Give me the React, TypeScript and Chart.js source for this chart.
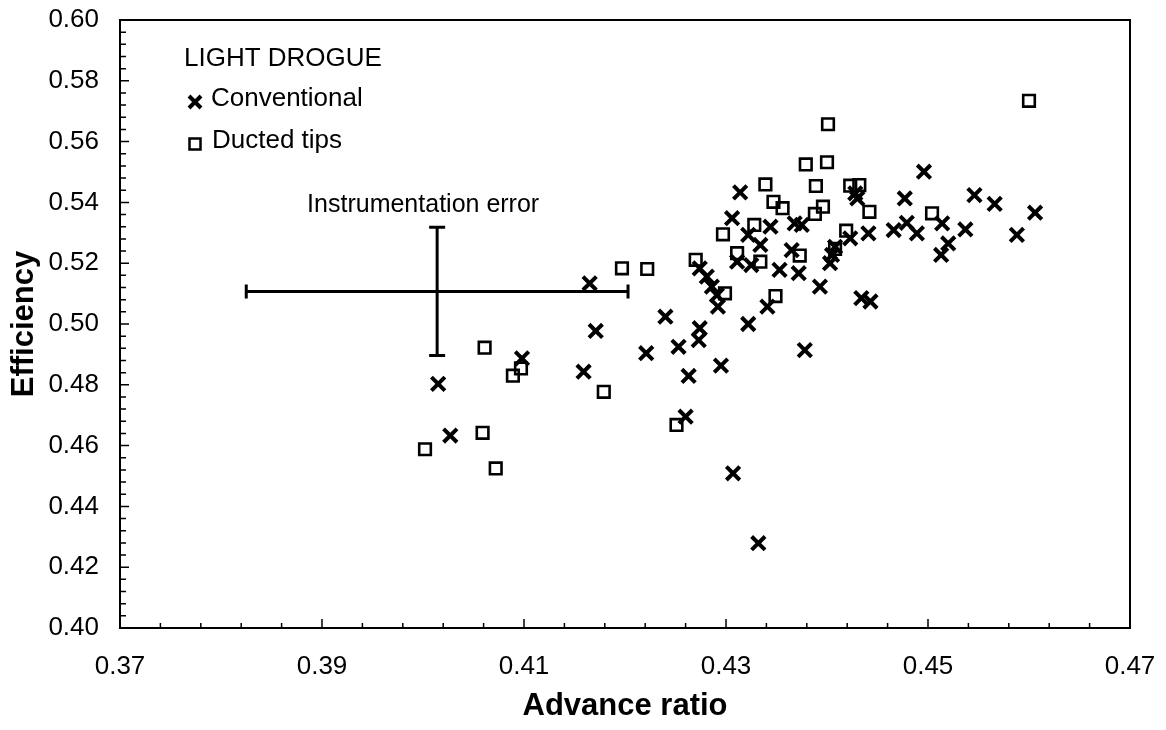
import React, { useEffect, useRef } from 'react';
import { Chart, registerables } from 'chart.js';

Chart.register(...registerables);

const FONT = '"Liberation Sans", Arial, Helvetica, sans-serif';

const seriesNames = ['Conventional', 'Ducted tips'];
const legendTitle = 'LIGHT DROGUE';
const annotationText = 'Instrumentation error';
const xAxisTitle = 'Advance ratio';
const yAxisTitle = 'Efficiency';

const xTickValues = [0.37, 0.39, 0.41, 0.43, 0.45, 0.47];
const xTickLabels = ['0.37', '0.39', '0.41', '0.43', '0.45', '0.47'];
const yTickValues = [0.4, 0.42, 0.44, 0.46, 0.48, 0.5, 0.52, 0.54, 0.56, 0.58, 0.6];
const yTickLabels = ['0.40', '0.42', '0.44', '0.46', '0.48', '0.50', '0.52', '0.54', '0.56', '0.58', '0.60'];
const minorPerMajor = 5;

const conventionalAdvance = [
  0.4015, 0.4027, 0.4098, 0.4159, 0.4165, 0.4171, 0.4221, 0.424, 0.4253, 0.4263,
  0.426, 0.4273, 0.4274, 0.4274, 0.4281, 0.4286, 0.4291, 0.4292, 0.4295, 0.4307,
  0.4306, 0.4314, 0.4311, 0.4322, 0.4334, 0.4325, 0.4322, 0.4332, 0.4341, 0.4344,
  0.4368, 0.4375, 0.4365, 0.4353, 0.4372, 0.4378, 0.4393, 0.4403, 0.4405, 0.4408,
  0.4423, 0.4428, 0.443, 0.4434, 0.4443, 0.4441, 0.4466, 0.4477, 0.4479, 0.4489,
  0.4496, 0.4514, 0.4513, 0.452, 0.4537, 0.4546, 0.4566, 0.4588, 0.4606,
];
const conventionalEfficiency = [
  0.4803, 0.4633, 0.4887, 0.4843, 0.5134, 0.4977, 0.4904, 0.5024, 0.4925, 0.4829,
  0.4695, 0.4947, 0.4986, 0.5183, 0.5156, 0.5123, 0.5095, 0.5057, 0.4863, 0.4509,
  0.5348, 0.5433, 0.5205, 0.5293, 0.526, 0.5194, 0.5, 0.4279, 0.5057, 0.532,
  0.5331, 0.5326, 0.5243, 0.5178, 0.5167, 0.4914, 0.5123, 0.52, 0.5227, 0.5254,
  0.5282, 0.543, 0.5413, 0.5085, 0.5074, 0.5298, 0.5309, 0.5413, 0.5333, 0.5298,
  0.5501, 0.5331, 0.5227, 0.5265, 0.5311, 0.5424, 0.5395, 0.5293, 0.5366,
];

const ductedAdvance = [
  0.4002, 0.4059, 0.4061, 0.4072, 0.4089, 0.4097, 0.4179, 0.4197, 0.4222, 0.4251,
  0.427, 0.4299, 0.4297, 0.4311, 0.4328, 0.4334, 0.4339, 0.4347, 0.4349, 0.4356,
  0.4373, 0.4379, 0.4388, 0.4389, 0.4396, 0.44, 0.4401, 0.4408, 0.4419, 0.4423,
  0.4432, 0.4442, 0.4504, 0.46,
];
const ductedEfficiency = [
  0.4588, 0.4642, 0.4922, 0.4525, 0.483, 0.4854, 0.4777, 0.5183, 0.5181, 0.4668,
  0.5211, 0.5101, 0.5295, 0.5233, 0.5326, 0.5205, 0.5459, 0.5402, 0.5092, 0.5381,
  0.5225, 0.5525, 0.5362, 0.5454, 0.5386, 0.5532, 0.5657, 0.5247, 0.5307, 0.5455,
  0.5457, 0.5369, 0.5364, 0.5734,
];

// instrumentation error bar: centre (advance ratio, efficiency) and half-widths
const errorCenter = [0.4014, 0.5107];
const errorHalf = [0.0189, 0.0211];

const decorPlugin = {
  id: 'decor',
  afterDatasetsDraw(chart: any) {
    const { ctx, chartArea } = chart;
    const xs = chart.scales.x;
    const ys = chart.scales.y;
    const { left, right, top, bottom } = chartArea;
    ctx.save();
    ctx.strokeStyle = '#000';
    ctx.fillStyle = '#000';

    // frame
    ctx.lineWidth = 2;
    ctx.strokeRect(left, top, right - left, bottom - top);

    // inward ticks
    ctx.lineWidth = 1.5;
    ctx.beginPath();
    for (let i = 0; i < xTickValues.length; i++) {
      const v = xTickValues[i];
      const px = xs.getPixelForValue(v);
      if (i > 0 && i < xTickValues.length - 1) {
        ctx.moveTo(px, bottom);
        ctx.lineTo(px, bottom - 9);
      }
      if (i < xTickValues.length - 1) {
        const step = (xTickValues[i + 1] - v) / minorPerMajor;
        for (let k = 1; k < minorPerMajor; k++) {
          const mx = xs.getPixelForValue(v + k * step);
          ctx.moveTo(mx, bottom);
          ctx.lineTo(mx, bottom - 5);
        }
      }
    }
    for (let i = 0; i < yTickValues.length; i++) {
      const v = yTickValues[i];
      const py = ys.getPixelForValue(v);
      if (i > 0 && i < yTickValues.length - 1) {
        ctx.moveTo(left, py);
        ctx.lineTo(left + 9, py);
      }
      if (i < yTickValues.length - 1) {
        const step = (yTickValues[i + 1] - v) / minorPerMajor;
        for (let k = 1; k < minorPerMajor; k++) {
          const my = ys.getPixelForValue(v + k * step);
          ctx.moveTo(left, my);
          ctx.lineTo(left + 6, my);
        }
      }
    }
    ctx.stroke();

    // error bar
    const cx = xs.getPixelForValue(errorCenter[0]);
    const cy = ys.getPixelForValue(errorCenter[1]);
    const x0 = xs.getPixelForValue(errorCenter[0] - errorHalf[0]);
    const x1 = xs.getPixelForValue(errorCenter[0] + errorHalf[0]);
    const y0 = ys.getPixelForValue(errorCenter[1] + errorHalf[1]);
    const y1 = ys.getPixelForValue(errorCenter[1] - errorHalf[1]);
    ctx.lineWidth = 3;
    ctx.beginPath();
    ctx.moveTo(x0, cy);
    ctx.lineTo(x1, cy);
    ctx.moveTo(x0, cy - 7);
    ctx.lineTo(x0, cy + 7);
    ctx.moveTo(x1, cy - 7);
    ctx.lineTo(x1, cy + 7);
    ctx.moveTo(cx, y0);
    ctx.lineTo(cx, y1);
    ctx.moveTo(cx - 8, y0);
    ctx.lineTo(cx + 8, y0);
    ctx.moveTo(cx - 8, y1);
    ctx.lineTo(cx + 8, y1);
    ctx.stroke();

    // annotation text
    ctx.font = `25px ${FONT}`;
    ctx.textAlign = 'center';
    ctx.textBaseline = 'middle';
    ctx.fillText(annotationText, cx - 14, y0 - 22);

    // legend
    const lx = left + 64;
    ctx.textAlign = 'left';
    ctx.font = `26px ${FONT}`;
    ctx.fillText(legendTitle, lx, top + 39);
    const mx = left + 75;
    const c1 = top + 82;
    ctx.lineWidth = 4;
    ctx.beginPath();
    ctx.moveTo(mx - 6, c1 - 6);
    ctx.lineTo(mx + 6, c1 + 6);
    ctx.moveTo(mx + 6, c1 - 6);
    ctx.lineTo(mx - 6, c1 + 6);
    ctx.stroke();
    ctx.fillText(seriesNames[0], left + 91, top + 79);
    const c2 = top + 124;
    ctx.lineWidth = 2.5;
    ctx.strokeRect(mx - 5.5, c2 - 5.5, 11, 11);
    ctx.fillText(seriesNames[1], left + 92, top + 121);

    ctx.restore();
  },
};

export default function App() {
  const ref = useRef<HTMLCanvasElement | null>(null);

  useEffect(() => {
    if (!ref.current) return;
    const chart = new Chart(ref.current, {
      type: 'scatter',
      data: {
        datasets: [
          {
            label: seriesNames[0],
            data: conventionalAdvance.map((x, i) => ({ x, y: conventionalEfficiency[i] })),
            pointStyle: 'crossRot',
            pointRadius: 9.5,
            pointBorderWidth: 4,
            borderColor: '#000',
            backgroundColor: '#000',
          },
          {
            label: seriesNames[1],
            data: ductedAdvance.map((x, i) => ({ x, y: ductedEfficiency[i] })),
            pointStyle: 'rect',
            pointRadius: 8.2,
            pointBorderWidth: 2.6,
            borderColor: '#000',
            backgroundColor: 'rgba(0,0,0,0)',
          },
        ],
      },
      options: {
        animation: false,
        responsive: false,
        maintainAspectRatio: false,
        layout: { padding: { left: 0, right: 36, top: 20, bottom: 0 } },
        plugins: {
          legend: { display: false },
          tooltip: { enabled: false },
        },
        scales: {
          x: {
            type: 'linear',
            min: 0.37,
            max: 0.47,
            grid: { display: false, drawTicks: false },
            border: { display: false },
            afterBuildTicks: (s: any) => {
              s.ticks = xTickValues.map((v) => ({ value: v }));
            },
            afterFit: (s: any) => {
              s.height = 102;
              s.paddingLeft = 0;
              s.paddingRight = 0;
            },
            ticks: {
              color: '#000',
              font: { size: 26, family: FONT },
              padding: 23,
              maxRotation: 0,
              autoSkip: false,
              callback: (v: any) => {
                const i = xTickValues.findIndex((t) => Math.abs(t - Number(v)) < 1e-6);
                return i >= 0 ? xTickLabels[i] : '';
              },
            },
            title: {
              display: true,
              text: xAxisTitle,
              color: '#000',
              font: { size: 31, weight: 'bold', family: FONT },
              padding: { top: 0, bottom: 5 },
            },
          },
          y: {
            type: 'linear',
            min: 0.4,
            max: 0.6,
            grid: { display: false, drawTicks: false },
            border: { display: false },
            afterBuildTicks: (s: any) => {
              s.ticks = yTickValues.map((v) => ({ value: v }));
            },
            afterFit: (s: any) => {
              s.width = 120;
              s.paddingTop = 0;
              s.paddingBottom = 0;
            },
            ticks: {
              color: '#000',
              font: { size: 26, family: FONT },
              padding: 21,
              autoSkip: false,
              callback: (v: any) => {
                const i = yTickValues.findIndex((t) => Math.abs(t - Number(v)) < 1e-6);
                return i >= 0 ? yTickLabels[i] : '';
              },
            },
            title: {
              display: true,
              text: yAxisTitle,
              color: '#000',
              font: { size: 31, weight: 'bold', family: FONT },
              padding: { top: 6, bottom: 0 },
            },
          },
        },
      },
      plugins: [decorPlugin],
    });
    return () => chart.destroy();
  }, []);

  return (
    <div style={{ position: 'absolute', left: 0, top: 0, width: 1166, height: 730, background: '#fff' }}>
      <canvas ref={ref} width={1166} height={730} style={{ display: 'block', width: 1166, height: 730 }} />
    </div>
  );
}
